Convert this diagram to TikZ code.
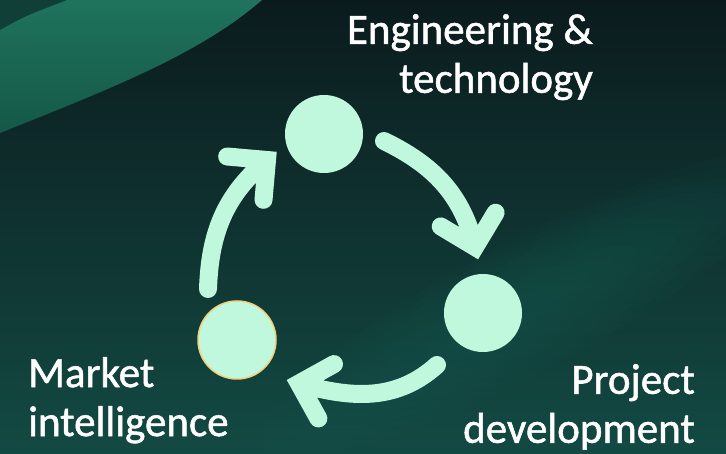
\documentclass[tikz,border=0pt]{standalone}
\usepackage{fontspec}
\setmainfont{Carlito}
\usepackage{tikz}
\usetikzlibrary{positioning}
\definecolor{bgdark}{HTML}{0B1B1D}
\definecolor{bgteal}{HTML}{134A43}
\definecolor{streak}{HTML}{1E675C}
\definecolor{bandtop}{HTML}{1F735D}
\definecolor{bandlow}{HTML}{155848}
\definecolor{cornerteal}{HTML}{0F3F37}
\definecolor{mint}{HTML}{C0F8DE}
\definecolor{ringgold}{HTML}{F3CF7E}

\begin{document}
\begin{tikzpicture}[x=1pt,y=1pt,
  dot/.style={circle,fill=mint,minimum size=78pt,inner sep=0pt},
  cyc/.style={draw=mint,line width=18pt,line cap=round,line join=miter},
  lbl/.style={text=white,font=\fontsize{43}{49}\selectfont\addfontfeature{FakeBold=1.2},inner sep=0pt}]
  \useasboundingbox (0,0) rectangle (726,454);
  % background
  \begin{scope}
    \clip (0,0) rectangle (726,454);
    \shade[shading angle=58,top color=bgdark,middle color=bgdark,bottom color=bgteal]
      (0,0) rectangle (726,454);
    \foreach \k in {1,...,10}
      \fill[streak,fill opacity=0.05,rotate around={28:(530,150)}]
        (530,150) ellipse ({40+26*\k} and {5+6*\k});
    \shade[shading angle=30,top color=bandtop,bottom color=bandlow]
      (0,321) .. controls (110,365) and (200,400) .. (262,454) -- (0,454) -- cycle;
    \fill[cornerteal] (0,454) -- (0,424) .. controls (25,438) .. (67,454) -- cycle;
  \end{scope}

  % the three stages
  \node[dot] (eng) at (324,320) {};
  \node[dot] (proj) at (483,141) {};
  \node[dot,draw=ringgold,line width=1.5pt] (mkt) at (237,114) {};

  \node[lbl,anchor=north east,align=right] (engtxt) at (593,440) {Engineering \&\\technology};
  \node[lbl,anchor=north east,align=right] (projtxt) at (695,90) {Project\\development};
  \node[lbl,anchor=north west,align=left] (mkttxt) at (28,97) {Market\\intelligence};

  % arrow ends
  \coordinate (a1s) at (384,313);
  \coordinate (a1e) at (475,207);
  \coordinate (a2s) at (437,89);
  \coordinate (a2e) at (299,70.5);
  \coordinate (a3s) at (208,165);
  \coordinate (a3e) at (267,294);

  \draw[cyc] (a1s) to[out=-26,in=104] (a1e) ++(149:40) -- (a1e) -- ++(59:40);
  \draw[cyc] (a2s) to[out=222,in=-16] (a2e) ++(29:40) -- (a2e) -- ++(-61:40);
  \draw[cyc] (a3s) to[out=88,in=220] (a3e) ++(175:40) -- (a3e) -- ++(265:40);
\end{tikzpicture}
\end{document}
